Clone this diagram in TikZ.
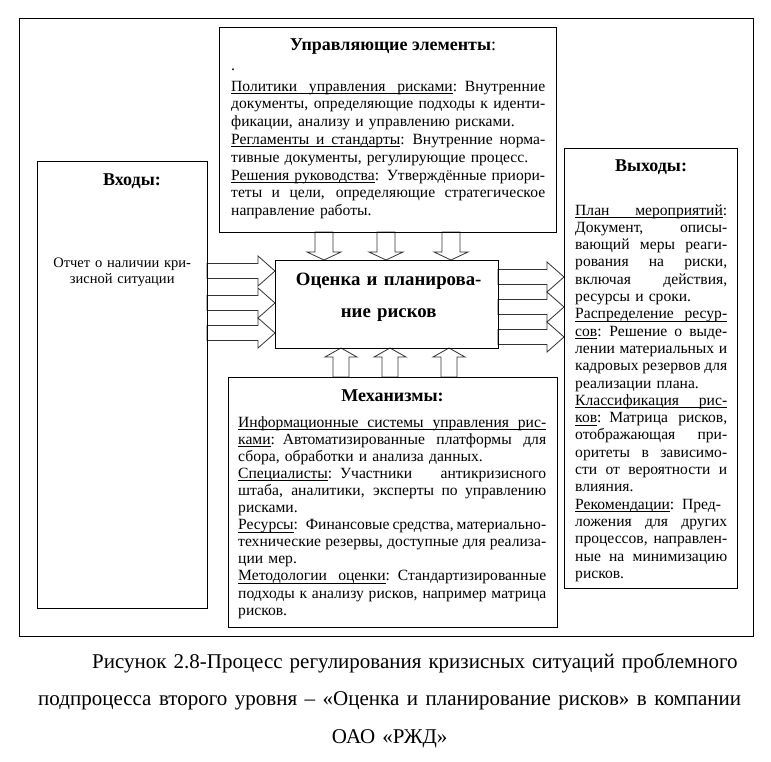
\documentclass[tikz,border=0pt]{standalone}
\usepackage{fontspec}
\setmainfont{Liberation Serif}
\newcommand\arrRight[3]{\draw[barrow] (#1,#3-7.5) -- (#2-17,#3-7.5) -- (#2-17,#3-15) -- (#2,#3) -- (#2-17,#3+15) -- (#2-17,#3+7.5) -- (#1,#3+7.5) -- cycle;}
\newcommand\arrDown[3]{\draw[barrow] (#1-9,#2) -- (#1-9,#3-8) -- (#1-17,#3-8) -- (#1,#3) -- (#1+17,#3-8) -- (#1+9,#3-8) -- (#1+9,#2) -- cycle;}
\newcommand\arrUp[3]{\draw[barrow] (#1-8,#2) -- (#1-8,#3+9) -- (#1-16,#3+9) -- (#1,#3) -- (#1+16,#3+9) -- (#1+8,#3+9) -- (#1+8,#2) -- cycle;}
\newcommand\jl[1]{\makebox[\linewidth][s]{\spaceskip=\fontdimen2\font plus\fontdimen3\font minus 0.4\fontdimen2\font\relax #1}}
\newcommand\ulw[1]{\setbox0\hbox{#1}\rlap{\rule[-2.6pt]{\wd0}{0.7pt}}\box0}
\newcommand\uls{\leaders\hrule height -1.9pt depth 2.6pt\hskip\fontdimen2\font plus\fontdimen3\font minus 0.4\fontdimen2\font\relax}
\begin{document}
\begin{tikzpicture}[x=1pt,y=-1pt,
  box/.style={draw, line width=1.1pt, inner sep=0pt, anchor=north west},
  frame/.style={draw, line width=1.4pt, inner sep=0pt, anchor=north west},
  barrow/.style={draw=black!80, line width=0.8pt, fill=white, line join=miter},
  body/.style={anchor=base west, inner sep=0pt, align=left, font=\fontsize{15.6}{17.8}\selectfont},
  head/.style={anchor=base, inner sep=0pt, font=\fontsize{18}{20}\selectfont\bfseries},
]
\useasboundingbox (0,0) rectangle (771,761);
% block arrows
\arrRight{207}{275}{271}
\arrRight{207}{275}{303}
\arrRight{207}{275}{333}
\arrRight{498}{564}{277}
\arrRight{498}{564}{307}
\arrRight{498}{564}{337}
\arrDown{324}{232}{260}
\arrDown{386}{232}{260}
\arrDown{451}{232}{260}
\arrUp{341}{377}{348}
\arrUp{390}{377}{348}
\arrUp{449}{377}{348}
% boxes
\node[frame, minimum width=734pt, minimum height=618pt] (frame) at (19,18) {};
\node[box, minimum width=337pt, minimum height=205pt] (ctrl) at (219,27) {};
\node[box, minimum width=170pt, minimum height=447pt] (inp) at (37,161) {};
\node[box, minimum width=173pt, minimum height=440pt] (outp) at (564,148) {};
\node[box, minimum width=329pt, minimum height=250pt] (mech) at (228,377) {};
\node[box, minimum width=223pt, minimum height=88pt] (proc) at (275,260) {};
% top box
\node[head] (ctrltitle) at (393,50) {Управляющие элементы\mdseries:};
\node[body] (ctrldot) at (231,70) {.};
\node[body, text width=314pt] (ctrltext) at (231,91) {%
\jl{\ulw{Политики}\uls\ulw{управления}\uls\ulw{рисками}: Внутренние}\\
\jl{документы, определяющие подходы к иденти-}\\
фикации, анализу и управлению рисками.\\
\jl{\ulw{Регламенты}\uls\ulw{и}\uls\ulw{стандарты}: Внутренние норма-}\\
тивные документы, регулирующие процесс.\\
\jl{\ulw{Решения}\uls\ulw{руководства}: Утверждённые приори-}\\
\jl{теты и цели, определяющие стратегическое}\\
направление работы.};
% left box
\node[head] (inptitle) at (132,185) {Входы:};
\node[body, text width=170pt, align=center, font=\fontsize{14.5}{16.5}\selectfont] (inptext) at (37,267) {Отчет о наличии кри-\\зисной ситуации};
% right box
\node[head] (outptitle) at (651,171) {Выходы:};
\node[body, text width=152pt, font=\fontsize{15.6}{17.3}\selectfont] (outptext) at (575,215) {%
\jl{\ulw{План}\uls\ulw{мероприятий}:}\\
\jl{Документ, описы-}\\
\jl{вающий меры реаги-}\\
\jl{рования на риски,}\\
\jl{включая действия,}\\
ресурсы и сроки.\\
\jl{\ulw{Распределение}\uls\ulw{ресур-}}\\
\jl{\ulw{сов}: Решение о выде-}\\
\jl{лении материальных и}\\
\jl{кадровых резервов для}\\
реализации плана.\\
\jl{\ulw{Классификация}\uls\ulw{рис-}}\\
\jl{\ulw{ков}: Матрица рисков,}\\
\jl{отображающая при-}\\
\jl{оритеты в зависимо-}\\
\jl{сти от вероятности и}\\
влияния.\\
\jl{\ulw{Рекомендации}: Пред-}\\
\jl{ложения для других}\\
\jl{процессов, направлен-}\\
\jl{ные на минимизацию}\\
рисков.};
% bottom box
\node[head] (mechtitle) at (392.5,401) {Механизмы:};
\node[body, text width=308pt, font=\fontsize{15.6}{17.1}\selectfont] (mechtext) at (238,427) {%
\jl{\ulw{Информационные}\uls\ulw{системы}\uls\ulw{управления}\uls\ulw{рис-}}\\
\jl{\ulw{ками}: Автоматизированные платформы для}\\
сбора, обработки и анализа данных.\\
\jl{\ulw{Специалисты}: Участники антикризисного}\\
\jl{штаба, аналитики, эксперты по управлению}\\
рисками.\\
\jl{\ulw{Ресурсы}: Финансовые средства, материально-}\\
\jl{технические резервы, доступные для реализа-}\\
ции мер.\\
\jl{\ulw{Методологии}\uls\ulw{оценки}: Стандартизированные}\\
\jl{подходы к анализу рисков, например матрица}\\
рисков.};
% centre
\node[anchor=base west, inner sep=0pt, text width=223pt, align=center, font=\fontsize{18.8}{32}\selectfont\bfseries] (proctext) at (277,285) {Оценка и планирова-\\ние рисков};
% caption
\node[anchor=base west, inner sep=0pt, text width=703pt, align=left, font=\fontsize{21}{37.5}\selectfont] (caption) at (38,668) {%
\hspace*{54pt}\makebox[649pt][s]{Рисунок 2.8-Процесс регулирования кризисных ситуаций проблемного}\\
\jl{подпроцесса второго уровня – «Оценка и планирование рисков» в компании}\\
\makebox[\linewidth][c]{ОАО «РЖД»}};
\end{tikzpicture}
\end{document}
